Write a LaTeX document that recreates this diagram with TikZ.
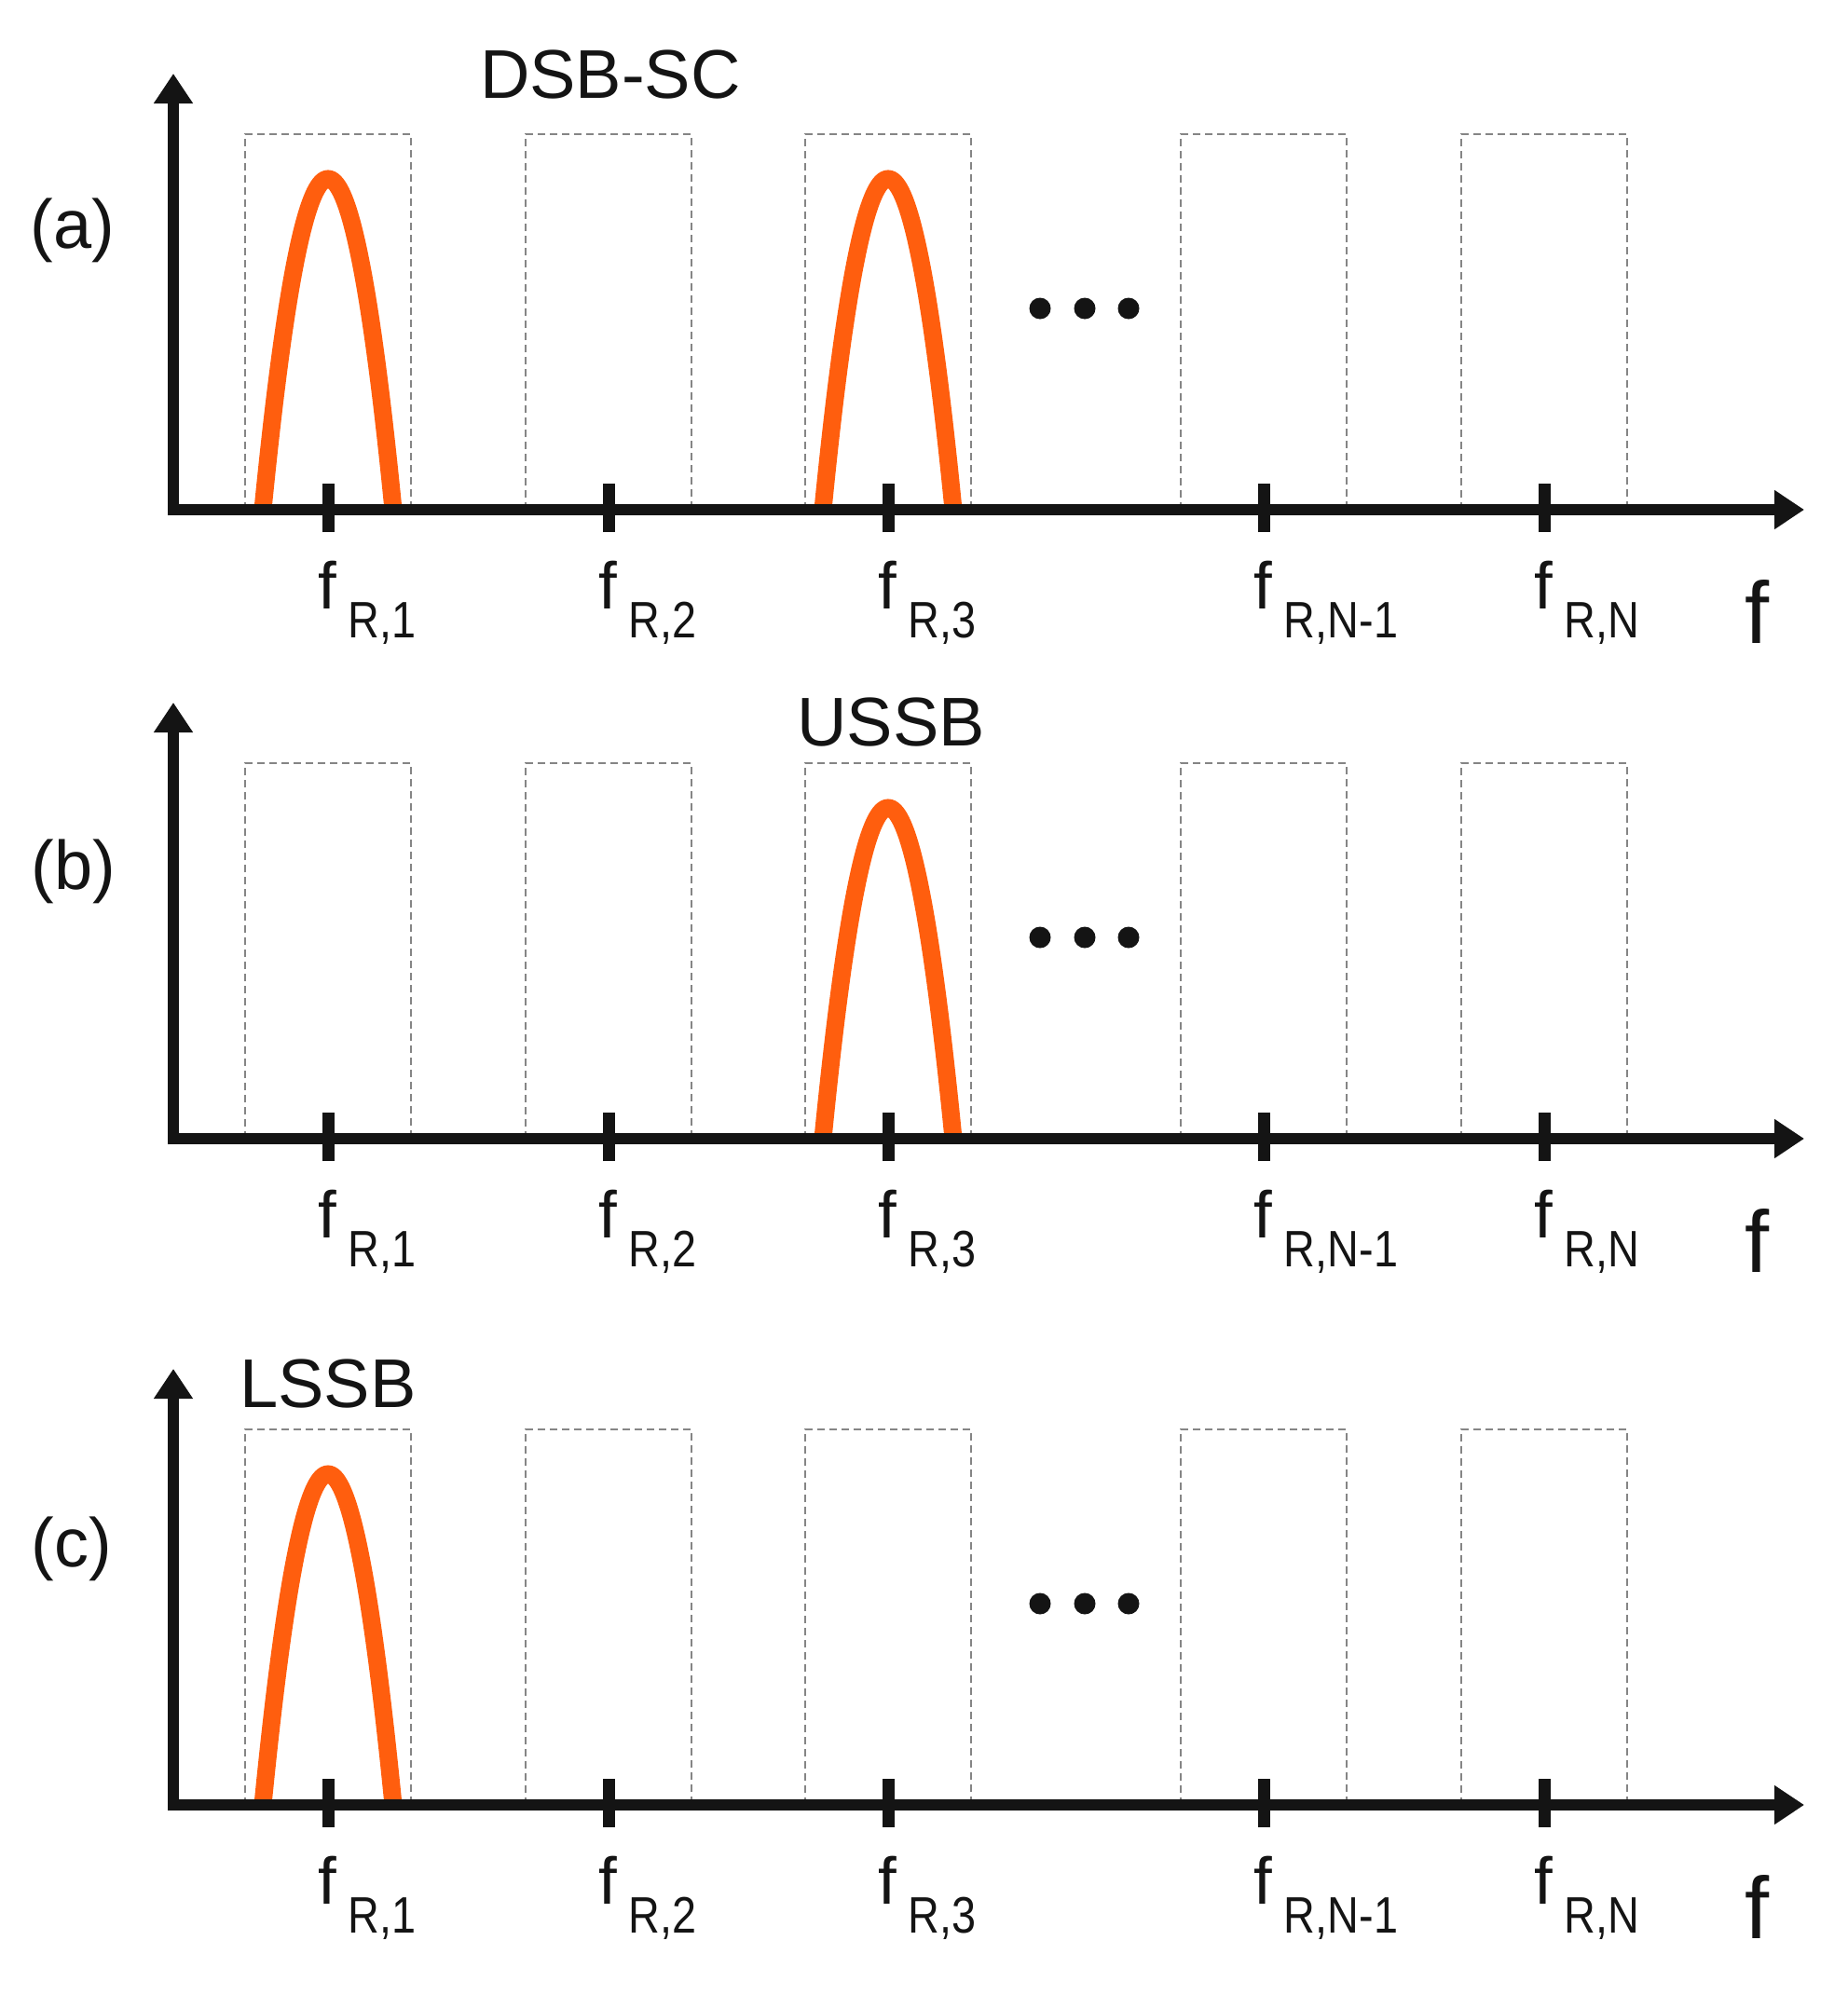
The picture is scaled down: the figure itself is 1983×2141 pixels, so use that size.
\documentclass[tikz,border=0pt]{standalone}
\usepackage{fontspec}
\setmainfont{Liberation Sans}
\newfontfamily\subfont[FakeStretch=0.85]{Liberation Sans}
\usetikzlibrary{arrows.meta}
\definecolor{curveorange}{HTML}{FF5E0E}
\definecolor{boxgray}{HTML}{858585}
\definecolor{axisblack}{HTML}{141414}
\tikzset{
  axisline/.style={line width=12pt, draw=axisblack, -{Triangle[length=32pt,width=40pt]}},
  tickmark/.style={line width=13pt, draw=axisblack},
  band/.style={draw=boxgray, line width=2.5pt, dash pattern=on 8pt off 5pt},
  spectrum/.style={draw=curveorange, line width=19pt},
  dotmark/.style={fill=axisblack},
  bigtext/.style={font=\fontsize{74}{74}\selectfont, inner sep=0pt, text=axisblack},
  flabel/.style={font=\fontsize{71}{71}\selectfont, inner sep=0pt, text=axisblack, anchor=base west},
  axislabel/.style={font=\fontsize{94}{94}\selectfont, inner sep=0pt, text=axisblack, anchor=base},
}
\newcommand\bump[1]{\draw[spectrum] plot[domain=-1:1, samples=81, smooth] ({#1+70*\x},{355*(1-\x*\x)});}
\newcommand\specpanel[3]{% #1 prefix, #2 y shift, #3 bumps
\begin{scope}[shift={(0,#2)}]
  \foreach \c in {352,653,953,1356,1657} {\draw[band] (\c-89,0) rectangle (\c+89,403);}
  \foreach \c in {#3} {\bump{\c}}
  \foreach \c in {1116,1164,1211} {\fill[dotmark] (\c,216) circle[radius=11.5];}
  \coordinate (#1o) at (180,0);
  \coordinate (#1xe) at (1936,0);
  \coordinate (#1yb) at (186,-6);
  \coordinate (#1ye) at (186,468);
  \draw[axisline] (#1yb) -- (#1ye);
  \draw[axisline] (#1o) -- (#1xe);
  \foreach \c in {352,653,953,1356,1657} {\draw[tickmark] (\c,-24) -- (\c,28);}
  \foreach \c/\s [count=\i] in {352/{R,1},653/{R,2},953/{R,3},1356/{R,N-1},1657/{R,N}}
    {\node[flabel] (#1f\i) at (\c-11,-106) {f\hspace{13pt}\raisebox{-31pt}{\subfont\fontsize{55}{55}\selectfont\s}};}
  \node[axislabel] (#1faxis) at (1886,-143) {f};
\end{scope}}
\begin{document}
\begin{tikzpicture}[x=1pt,y=1pt]
\useasboundingbox (0,0) rectangle (1983,-2141);
\specpanel{a}{-547}{352,953}
\specpanel{b}{-1222}{953}
\specpanel{c}{-1937}{352}
\node[bigtext] (pa) at (78,-247) {(a)};
\node[bigtext] (pb) at (79,-935) {(b)};
\node[bigtext] (pc) at (77,-1662) {(c)};
\node[bigtext, anchor=base] (ta) at (655,-105) {DSB-SC};
\node[bigtext, anchor=base] (tb) at (956,-800) {USSB};
\node[bigtext, anchor=base] (tc) at (352,-1510) {LSSB};
\end{tikzpicture}
\end{document}
